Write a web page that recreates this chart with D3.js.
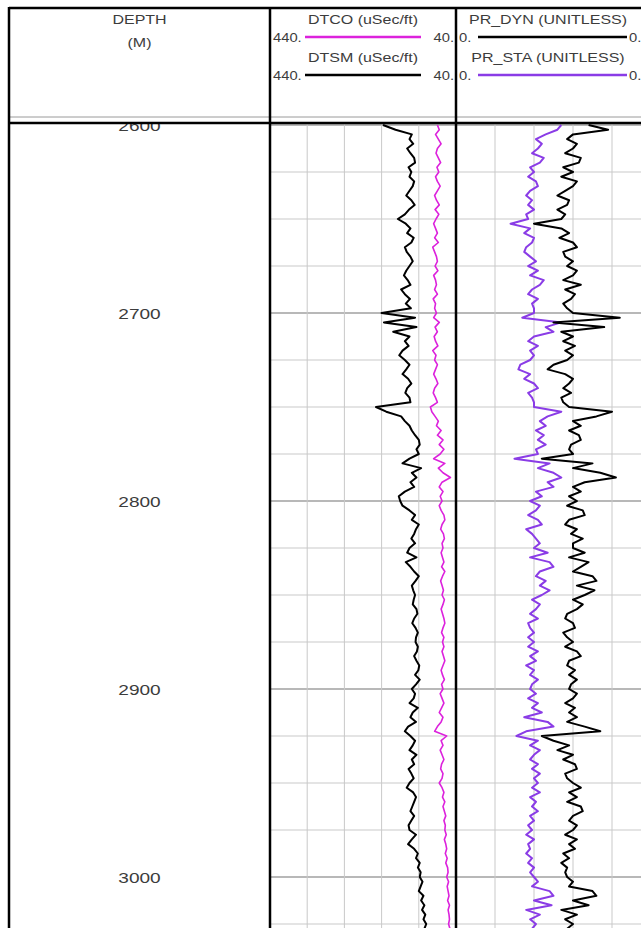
<!DOCTYPE html>
<html>
<head>
<meta charset="utf-8">
<script src="https://cdn.jsdelivr.net/npm/d3@7"></script>
<style>
  html, body { margin: 0; padding: 0; background: #fff; }
  svg { display: block; }
  text { font-family: "Liberation Sans", Arial, sans-serif; fill: #3c3c3c; }
</style>
</head>
<body>
<svg id="chart"></svg>
<script>
// curves are sampled every 2.5 m from 2600 m
var depthStart = 2600, depthStep = 2.5;
var depthLabels = [2600, 2700, 2800, 2900, 3000];
var dtRange = [440, 40];
var prRange = [0, 0.5];

var dtsm = [
  197, 170, 135, 140, 132, 145, 138, 130, 128, 142,
  136, 140, 130, 133, 140, 147, 136, 129, 141, 150,
  165, 148, 138, 145, 131, 136, 150, 146, 138, 133,
  140, 147, 152, 144, 138, 158, 150, 139, 148, 137,
  200, 128, 195, 125, 175, 140, 150, 142, 155, 162,
  150, 140, 147, 155, 143, 136, 145, 149, 140, 138,
  212, 190, 158, 150, 140, 135, 128, 120, 118, 125,
  120, 140, 155, 115, 135, 125, 138, 130, 150, 163,
  160, 155, 140, 128, 135, 120, 126, 130, 136, 128,
  140, 145, 125, 148, 138, 130, 120, 127, 135, 132,
  128, 131, 133, 125, 123, 130, 134, 127, 122, 126,
  127, 122, 124, 130, 125, 119, 121, 128, 118, 126,
  135, 128, 131, 140, 122, 133, 138, 126, 143, 150,
  138, 128, 133, 140, 125, 135, 130, 142, 136, 131,
  140, 146, 132, 126, 130, 134, 138, 130, 136, 142,
  140, 126, 135, 143, 130, 122, 126, 118, 122, 116,
  118, 112, 116, 120, 110, 115, 108, 113, 106, 110, 104, 108, 103
];
var dtco = [
  80, 76, 84, 78, 72, 80, 83, 78, 73, 81,
  77, 84, 80, 74, 80, 86, 82, 76, 85, 77,
  83, 88, 84, 80, 86, 78, 90, 86, 82, 80,
  85, 79, 88, 84, 82, 86, 80, 89, 84, 86,
  82, 88, 76, 85, 80, 87, 84, 79, 90, 83,
  86, 80, 84, 88, 83, 79, 86, 89, 84, 80,
  95, 92, 85, 78, 82, 72, 80, 68, 76, 66,
  74, 88, 64, 78, 68, 52, 70, 76, 68, 74,
  70, 76, 72, 66, 64, 70, 73, 67, 65, 70,
  68, 72, 69, 66, 71, 64, 69, 73, 70, 67,
  70, 65, 68, 72, 69, 66, 64, 68, 71, 66,
  69, 66, 70, 67, 64, 68, 72, 69, 65, 71,
  68, 74, 70, 66, 71, 76, 68, 72, 80, 86,
  60, 72, 68, 74, 70, 66, 71, 73, 68, 70,
  76, 70, 66, 69, 64, 68, 65, 62, 66, 63,
  64, 61, 65, 62, 60, 63, 59, 62, 58, 57,
  60, 56, 59, 57, 55, 58, 54, 57, 55, 54, 56, 53, 55
];
var prDyn = [
  0.34, 0.39, 0.30, 0.285, 0.31, 0.30, 0.28, 0.32, 0.315, 0.275,
  0.30, 0.27, 0.31, 0.30, 0.28, 0.26, 0.29, 0.285, 0.26, 0.28,
  0.27, 0.20, 0.27, 0.29, 0.265, 0.30, 0.31, 0.275, 0.28, 0.30,
  0.285, 0.31, 0.30, 0.275, 0.32, 0.28, 0.305, 0.295, 0.275, 0.285,
  0.30, 0.42, 0.25, 0.38, 0.27, 0.30, 0.275, 0.305, 0.28, 0.30,
  0.285, 0.25, 0.235, 0.28, 0.30, 0.29, 0.275, 0.295, 0.27, 0.275,
  0.29, 0.40, 0.36, 0.30, 0.32, 0.29, 0.315, 0.32, 0.295, 0.29,
  0.30, 0.22, 0.35, 0.30, 0.37, 0.41, 0.33, 0.30, 0.32, 0.29,
  0.31, 0.285, 0.325, 0.33, 0.29, 0.28, 0.31, 0.295, 0.325, 0.30,
  0.30, 0.33, 0.29, 0.34, 0.32, 0.30, 0.35, 0.36, 0.31, 0.355,
  0.33, 0.30, 0.325, 0.31, 0.285, 0.28, 0.30, 0.305, 0.275, 0.285,
  0.30, 0.28, 0.31, 0.32, 0.29, 0.285, 0.305, 0.29, 0.31, 0.295,
  0.29, 0.31, 0.30, 0.28, 0.305, 0.29, 0.31, 0.285, 0.33, 0.37,
  0.22, 0.25, 0.29, 0.26, 0.30, 0.275, 0.305, 0.31, 0.28, 0.285,
  0.30, 0.32, 0.29, 0.31, 0.285, 0.32, 0.325, 0.30, 0.29, 0.31,
  0.30, 0.28, 0.31, 0.29, 0.305, 0.275, 0.29, 0.27, 0.285, 0.28,
  0.285, 0.30, 0.29, 0.35, 0.36, 0.30, 0.34, 0.27, 0.31, 0.28, 0.30, 0.285, 0.295
];
var prSta = [
  0.27, 0.26, 0.23, 0.205, 0.22, 0.21, 0.195, 0.225, 0.215, 0.19,
  0.20, 0.185, 0.205, 0.21, 0.19, 0.18, 0.195, 0.185, 0.20, 0.18,
  0.185, 0.14, 0.19, 0.175, 0.20, 0.195, 0.18, 0.175, 0.19, 0.205,
  0.185, 0.21, 0.19, 0.225, 0.215, 0.195, 0.185, 0.21, 0.195, 0.20,
  0.20, 0.17, 0.27, 0.23, 0.25, 0.20, 0.185, 0.21, 0.19, 0.20,
  0.19, 0.165, 0.16, 0.19, 0.175, 0.20, 0.21, 0.185, 0.195, 0.20,
  0.20, 0.27, 0.235, 0.215, 0.23, 0.205, 0.225, 0.21, 0.23, 0.205,
  0.21, 0.15, 0.24, 0.21, 0.25, 0.27, 0.235, 0.25, 0.205, 0.22,
  0.19, 0.215, 0.205, 0.185, 0.21, 0.22, 0.18, 0.195, 0.205, 0.215,
  0.20, 0.235, 0.19, 0.24, 0.25, 0.215, 0.205, 0.23, 0.215, 0.24,
  0.22, 0.195, 0.215, 0.205, 0.19, 0.21, 0.185, 0.19, 0.20, 0.185,
  0.20, 0.185, 0.21, 0.19, 0.205, 0.18, 0.20, 0.19, 0.21, 0.195,
  0.19, 0.205, 0.185, 0.21, 0.195, 0.22, 0.175, 0.235, 0.25, 0.18,
  0.155, 0.21, 0.19, 0.215, 0.20, 0.19, 0.21, 0.195, 0.215, 0.20,
  0.21, 0.195, 0.215, 0.19, 0.205, 0.195, 0.21, 0.19, 0.20, 0.185,
  0.195, 0.18, 0.20, 0.185, 0.19, 0.18, 0.195, 0.185, 0.20, 0.19,
  0.20, 0.21, 0.195, 0.24, 0.25, 0.20, 0.245, 0.18, 0.215, 0.19, 0.205, 0.195, 0.20
];

var W = 641, H = 928;
var x0 = 9, x1 = 270, x2 = 456, x3 = 651;
var headTop = 8, headGray = 117, dataTop = 123;
var stretch = 1.23;   // the original lettering is a bit wide

var svg = d3.select('#chart').attr('width', W).attr('height', H);

var y = d3.scaleLinear().domain([2600, 3000]).range([125, 877]);
var xDt = d3.scaleLinear().domain(dtRange).range([x1, x2]);
var xPr = d3.scaleLinear().domain(prRange).range([x2, x3]);

var defs = svg.append('defs');
defs.append('clipPath').attr('id', 'clipDepth')
    .append('rect').attr('x', x0).attr('y', dataTop + 1).attr('width', x1 - x0).attr('height', H);
defs.append('clipPath').attr('id', 'clipT2')
    .append('rect').attr('x', x1).attr('y', dataTop).attr('width', x2 - x1).attr('height', H);
defs.append('clipPath').attr('id', 'clipT3')
    .append('rect').attr('x', x2).attr('y', dataTop).attr('width', x3 - x2).attr('height', H);

// grid
var grid = svg.append('g').attr('class', 'grid');
var gridDepths = d3.range(2600, 3050, 25);
grid.selectAll('line.h').data(gridDepths).enter().append('line')
    .attr('class', 'h')
    .attr('x1', x1).attr('x2', W)
    .attr('y1', function(d) { return y(d); })
    .attr('y2', function(d) { return y(d); })
    .attr('stroke', function(d) { return d % 100 === 0 ? '#b8b8b8' : '#c9c9c9'; })
    .attr('stroke-width', function(d) { return d % 100 === 0 ? 2 : 1; });

var dtTicks = d3.range(dtRange[0] - 80, dtRange[1], -80);
grid.selectAll('line.v2').data(dtTicks).enter().append('line')
    .attr('class', 'v2')
    .attr('x1', function(d) { return xDt(d); }).attr('x2', function(d) { return xDt(d); })
    .attr('y1', dataTop).attr('y2', H)
    .attr('stroke', '#c9c9c9').attr('stroke-width', 1);

var prTicks = [0.1, 0.2, 0.3, 0.4];
grid.selectAll('line.v3').data(prTicks).enter().append('line')
    .attr('class', 'v3')
    .attr('x1', function(d) { return xPr(d); }).attr('x2', function(d) { return xPr(d); })
    .attr('y1', dataTop).attr('y2', H)
    .attr('stroke', '#c9c9c9').attr('stroke-width', 1);

// curves
var depthOf = function(i) { return depthStart + i * depthStep; };

var drawCurve = function(vals, xs, clip, col, w) {
    var line = d3.line()
        .x(function(d) { return xs(d); })
        .y(function(d, i) { return y(depthOf(i)); });
    svg.append('path')
        .datum(vals)
        .attr('clip-path', 'url(#' + clip + ')')
        .attr('fill', 'none')
        .attr('stroke', col)
        .attr('stroke-width', w)
        .attr('stroke-linejoin', 'round')
        .attr('d', line);
};

drawCurve(dtsm, xDt, 'clipT2', '#000', 2);
drawCurve(dtco, xDt, 'clipT2', '#dc22dc', 1.6);
drawCurve(prSta, xPr, 'clipT3', '#8a3ce6', 2);
drawCurve(prDyn, xPr, 'clipT3', '#000', 2);

// text helper, stretched sideways
var label = function(g, x, yy, str, anchor, size) {
    return g.append('text')
        .attr('transform', 'translate(' + x + ',' + yy + ') scale(' + stretch + ',1)')
        .attr('text-anchor', anchor)
        .attr('font-size', size)
        .text(str);
};

// depth labels
var dg = svg.append('g').attr('clip-path', 'url(#clipDepth)');
depthLabels.forEach(function(d) {
    label(dg, (x0 + x1) / 2, y(d) + 5.5, d, 'middle', 15.5);
});

// header
var hd = svg.append('g').attr('class', 'header');
label(hd, (x0 + x1) / 2, 24, 'DEPTH', 'middle', 13);
label(hd, (x0 + x1) / 2, 47, '(M)', 'middle', 13);

var legendRows = [
    {name: 'DTCO (uSec/ft)', lo: '440.', hi: '40.', col: '#dc22dc', track: 2, row: 0},
    {name: 'DTSM (uSec/ft)', lo: '440.', hi: '40.', col: '#000', track: 2, row: 1},
    {name: 'PR_DYN (UNITLESS)', lo: '0.', hi: '0.5', col: '#000', track: 3, row: 0},
    {name: 'PR_STA (UNITLESS)', lo: '0.', hi: '0.5', col: '#8a3ce6', track: 3, row: 1}
];
legendRows.forEach(function(r) {
    var ty = 24 + r.row * 38, sy = ty + 18;
    if (r.track === 2) {
        label(hd, (x1 + x2) / 2, ty, r.name, 'middle', 13);
        label(hd, x1 + 3, sy, r.lo, 'start', 12);
        label(hd, x2 - 2, sy, r.hi, 'end', 12);
        hd.append('line').attr('x1', 305).attr('x2', 421).attr('y1', sy - 5).attr('y2', sy - 5)
            .attr('stroke', r.col).attr('stroke-width', 2.5);
    } else {
        label(hd, 548, ty, r.name, 'middle', 13);
        label(hd, x2 + 3, sy, r.lo, 'start', 12);
        label(hd, 629, sy, r.hi, 'start', 12);
        hd.append('line').attr('x1', 478).attr('x2', 627).attr('y1', sy - 5).attr('y2', sy - 5)
            .attr('stroke', r.col).attr('stroke-width', 2.5);
    }
});

// frame
var fr = svg.append('g').attr('class', 'frame');
fr.append('line').attr('x1', x0).attr('x2', W).attr('y1', headTop).attr('y2', headTop)
    .attr('stroke', '#000').attr('stroke-width', 2.5);
fr.append('line').attr('x1', x0).attr('x2', W).attr('y1', headGray).attr('y2', headGray)
    .attr('stroke', '#9a9a9a').attr('stroke-width', 1);
fr.append('line').attr('x1', x0).attr('x2', W).attr('y1', dataTop).attr('y2', dataTop)
    .attr('stroke', '#000').attr('stroke-width', 2.5);
[x0, x1, x2].forEach(function(xx) {
    fr.append('line').attr('x1', xx).attr('x2', xx).attr('y1', headTop - 1).attr('y2', H)
        .attr('stroke', '#000').attr('stroke-width', 2.5);
});
</script>
</body>
</html>
